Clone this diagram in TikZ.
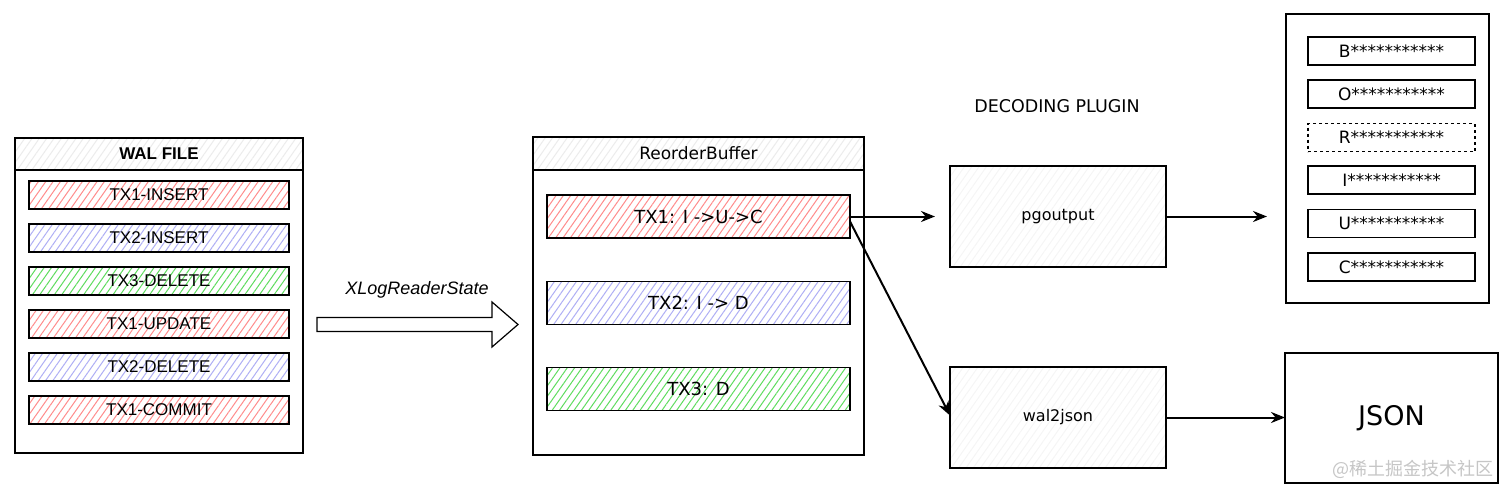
\documentclass[tikz,border=0pt]{standalone}
\usepackage{fontspec}
\setmainfont{Liberation Sans}
\newfontfamily\handfont{DejaVu Sans}
\newfontfamily\cjkfont{Noto Sans CJK SC}
\usetikzlibrary{patterns.meta,arrows.meta}
\definecolor{hred}{RGB}{255,140,140}
\definecolor{hblue}{RGB}{175,175,245}
\definecolor{hgreen}{RGB}{95,220,95}
\tikzset{
  box/.style={draw=black,line width=1.4pt,inner sep=0pt,outer sep=0pt,rectangle},
  hatch/.style={pattern={Lines[angle=55,distance=6pt,line width=1pt]},pattern color=#1},
  outerbox/.style={box,fill=white},
  headbox/.style={box,hatch=gray!15,font=\bfseries\fontsize{17}{19}\selectfont},
  walbar/.style={box,minimum width=260pt,minimum height=28pt,hatch=#1,font=\fontsize{17}{19}\selectfont},
  rbbar/.style={box,minimum width=303pt,minimum height=43pt,hatch=#1,font=\handfont\fontsize{18}{20}\selectfont},
  plugbox/.style={box,minimum width=216pt,minimum height=101pt,hatch=gray!8,font=\handfont\fontsize{16}{18}\selectfont},
  outbar/.style={box,minimum width=167pt,minimum height=28pt,fill=white,font=\handfont\fontsize{17}{19}\selectfont},
  arr/.style={line width=2pt,-{Stealth[length=14pt,width=11pt]}},
}
\begin{document}
\begin{tikzpicture}[x=1pt,y=-1pt]
\useasboundingbox (0,0) rectangle (1512,498);
% WAL FILE
\node[outerbox,minimum width=288pt,minimum height=315pt] (wal) at (159,295.5) {};
\node[headbox,minimum width=288pt,minimum height=32pt] (walh) at (159,154) {WAL FILE};
\node[walbar=hred] (w1) at (159,195) {TX1-INSERT};
\node[walbar=hblue] (w2) at (159,238) {TX2-INSERT};
\node[walbar=hgreen] (w3) at (159,281) {TX3-DELETE};
\node[walbar=hred] (w4) at (159,324) {TX1-UPDATE};
\node[walbar=hblue] (w5) at (159,367) {TX2-DELETE};
\node[walbar=hred] (w6) at (159,410) {TX1-COMMIT};
% block arrow
\draw[line width=1.2pt,fill=white,line join=miter] (317,317.5) -- (492,317.5) -- (492,302) -- (518,324.5) -- (492,347) -- (492,331.5) -- (317,331.5) -- cycle;
\node[font=\itshape\fontsize{18}{20}\selectfont] (xlog) at (417,290) {XLogReaderState};
% ReorderBuffer
\node[outerbox,minimum width=331pt,minimum height=318pt] (rb) at (698.5,296) {};
\node[headbox,minimum width=331pt,minimum height=33pt,font=\handfont\fontsize{17}{19}\selectfont] (rbh) at (698.5,153.5) {ReorderBuffer};
\node[rbbar=hred] (tx1) at (698.5,216.5) {TX1: I ->U->C};
\node[rbbar=hblue] (tx2) at (698.5,303) {TX2: I -> D};
\node[rbbar=hgreen] (tx3) at (698.5,389) {TX3: D};
% decoding plugin
\node[font=\handfont\fontsize{17.5}{19}\selectfont] (dp) at (1057,106) {DECODING PLUGIN};
\node[plugbox] (pg) at (1058,216.5) {pgoutput};
\node[plugbox] (wj) at (1058,417.5) {wal2json};
% output list
\node[outerbox,minimum width=203pt,minimum height=289pt] (list) at (1387.5,158.5) {};
\node[outbar] (oB) at (1391.5,51) {B***********};
\node[outbar] (oO) at (1391.5,94) {O***********};
\node[outbar,dashed] (oR) at (1391.5,137.5) {R***********};
\node[outbar] (oI) at (1391.5,180) {I***********};
\node[outbar] (oU) at (1391.5,223.5) {U***********};
\node[outbar] (oC) at (1391.5,267) {C***********};
% JSON
\node[outerbox,minimum width=213pt,minimum height=130pt,font=\handfont\fontsize{27}{29}\selectfont] (json) at (1391.5,418) {JSON};
\node[font=\cjkfont\fontsize{18}{20}\selectfont,text=gray!45] (wm) at (1413,469) {@稀土掘金技术社区};
% connectors
\draw[arr,shorten >=15pt] (tx1.east) -- (pg.west);
\draw[arr] ([yshift=-5pt]tx1.east) -- ([yshift=2pt]wj.west);
\draw[arr,shorten >=19pt] (pg.east) -- (pg.east -| list.west);
\draw[arr] (wj.east) -- (wj.east -| json.west);
\end{tikzpicture}
\end{document}
